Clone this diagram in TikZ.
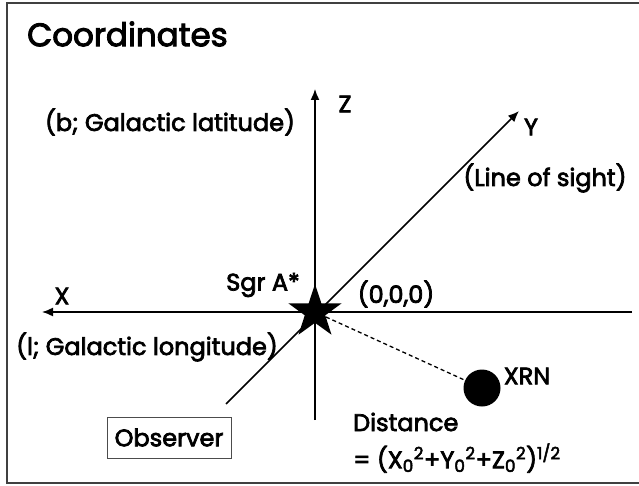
\documentclass[tikz,border=0pt]{standalone}
\usepackage{fontspec}
\setmainfont{Poppins}[FakeBold=3]
\usetikzlibrary{arrows.meta,shapes.geometric}
\begin{document}
\begin{tikzpicture}[x=1pt,y=-1pt,
    axis/.style={line width=1.5pt},
    lbl/.style={inner sep=0pt,font=\fontsize{24}{28}\selectfont},
    tip/.style={-{Latex[length=11pt,width=9pt]}}]
    \useasboundingbox (0,0) rectangle (639,486);
    % Marco
    \draw[line width=1.8pt,black!75] (642,3) -- (7,3) -- (7,483) -- (642,483);
    \node[anchor=west,inner sep=0pt,font=\fontsize{32.5}{38}\selectfont] (title) at (27,34) {Coordinates};
    % Ejes
    \coordinate (O) at (315,312);
    \coordinate (ztip) at (315,89);
    \coordinate (zbot) at (315,420);
    \coordinate (xtip) at (42,312);
    \coordinate (xend) at (632,312);
    \coordinate (ytip) at (519,111);
    \coordinate (ystart) at (226,404);
    \draw[axis,tip] (zbot) -- (ztip);
    \draw[axis,tip] (xend) -- (xtip);
    \draw[axis,tip] (ystart) -- (ytip);
    % Sgr A* y XRN
    \node[star,star points=5,star point ratio=2.6,fill=black,minimum size=56pt,inner sep=0pt] (sgr) at (O) {};
    \node[circle,fill=black,minimum size=37pt,inner sep=0pt] (xrn) at (482,388) {};
    \draw[line width=1.3pt,dash pattern=on 4pt off 3pt] (sgr) -- (xrn);
    % Etiquetas
    \node[lbl] (zlbl) at (345,104) {Z};
    \node[lbl] (ylbl) at (531,127) {Y};
    \node[lbl] (xlbl) at (62,296) {X};
    \node[lbl] (blat) at (170,122) {(b; Galactic latitude)};
    \node[lbl] (sight) at (545,178) {(Line of sight)};
    \node[lbl] (sgrlbl) at (263,285) {Sgr A*};
    \node[lbl] (llon) at (147,347) {(l; Galactic longitude)};
    \node[lbl] (orig) at (396,294) {(0,0,0)};
    \node[lbl] (xrnlbl) at (527,376) {XRN};
    \node[lbl,anchor=west] (dist) at (353,422) {Distance};
    \node[lbl,anchor=west] (form) at (353,458) {= (X\textsubscript{0}\textsuperscript{2}+Y\textsubscript{0}\textsuperscript{2}+Z\textsubscript{0}\textsuperscript{2})\textsuperscript{1/2}};
    \node[lbl,draw=black!70,line width=0.8pt,minimum width=124pt,minimum height=41pt] (obs) at (169,437.5) {Observer};
\end{tikzpicture}
\end{document}
